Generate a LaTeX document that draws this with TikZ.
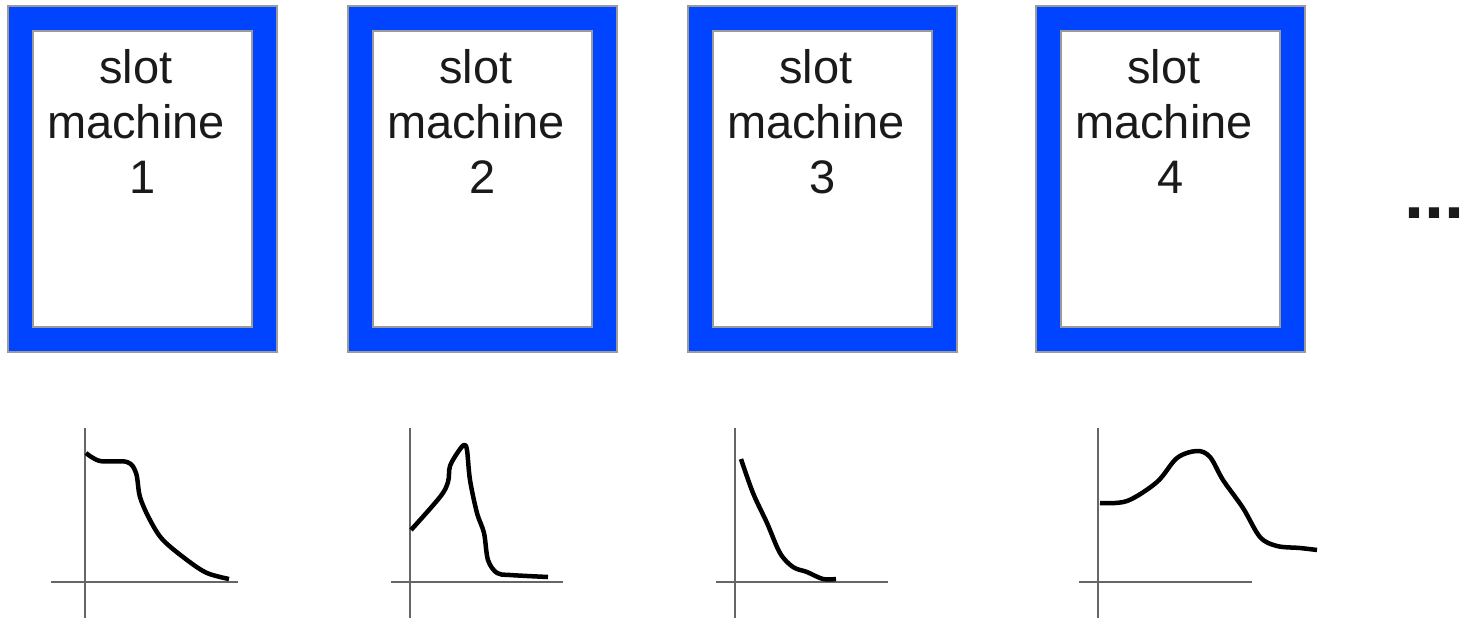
\documentclass[tikz,border=0pt]{standalone}
\usepackage{fontspec}
\setmainfont{Liberation Sans}
\definecolor{slotblue}{HTML}{0044FF}
\definecolor{edgegray}{HTML}{9A9A9A}
\definecolor{axisgray}{HTML}{666666}
\definecolor{txt}{HTML}{1A1A1A}
\tikzset{
  outerbox/.style={draw=edgegray, line width=1.5pt, fill=slotblue, minimum width=269pt, minimum height=346pt, inner sep=0pt},
  innerbox/.style={draw=edgegray, line width=1.5pt, fill=white, minimum width=219pt, minimum height=296pt, inner sep=0pt},
  slottext/.style={anchor=base, align=center, text=txt, inner sep=0pt, font=\fontsize{47}{55}\selectfont},
  axis/.style={draw=axisgray, line width=1.5pt},
  curve/.style={draw=black, line width=4.5pt, line join=round, smooth, tension=0.55},
}
\begin{document}
\begin{tikzpicture}[x=1pt, y=-1pt]
\useasboundingbox (0,0) rectangle (1465,619);
% boxes
\foreach \n/\cx in {1/142.5, 2/482.5, 3/822.5, 4/1170.5} {
  \node[outerbox] (b\n) at (\cx,179) {};
  \node[innerbox] (i\n) at (b\n) {};
  \node[slottext] (t\n) at (\cx,193) {slot\kern.278em\\machine\kern.278em\\\n};
}
\node[anchor=base west, inner sep=0pt, text=txt, font=\fontsize{72}{72}\selectfont\bfseries] (dots) at (1404,218) {...};
% graph 1
\coordinate (v1a) at (85,428); \coordinate (v1b) at (85,618);
\coordinate (h1a) at (51,582); \coordinate (h1b) at (238,582);
\draw[axis] (v1a) -- (v1b);
\draw[axis] (h1a) -- (h1b);
\draw[curve] plot coordinates {(86,453) (100,461) (127,462) (136,473) (140,497) (150,520) (163,540) (187,560) (207,573) (229,579)};
% graph 2
\coordinate (v2a) at (410,428); \coordinate (v2b) at (410,618);
\coordinate (h2a) at (391,582); \coordinate (h2b) at (563,582);
\draw[axis] (v2a) -- (v2b);
\draw[axis] (h2a) -- (h2b);
\draw[curve] plot coordinates {(411,530) (440,497) (448,482) (450,466) (458,452) (464,445) (467,450) (470,480) (477,513) (484,533) (488,560) (497,573) (510,575) (548,577)};
% graph 3
\coordinate (v3a) at (735,428); \coordinate (v3b) at (735,618);
\coordinate (h3a) at (716,582); \coordinate (h3b) at (888,582);
\draw[axis] (v3a) -- (v3b);
\draw[axis] (h3a) -- (h3b);
\draw[curve] plot coordinates {(741,459) (753,493) (767,523) (780,553) (793,567) (807,572) (823,579) (836,579)};
% graph 4
\coordinate (v4a) at (1098,428); \coordinate (v4b) at (1098,618);
\coordinate (h4a) at (1079,582); \coordinate (h4b) at (1252,582);
\draw[axis] (v4a) -- (v4b);
\draw[axis] (h4a) -- (h4b);
\draw[curve] plot coordinates {(1100,503) (1127,501) (1157,482) (1177,458) (1197,451) (1210,457) (1223,480) (1243,508) (1260,537) (1277,546) (1300,548) (1317,550)};
\end{tikzpicture}
\end{document}
